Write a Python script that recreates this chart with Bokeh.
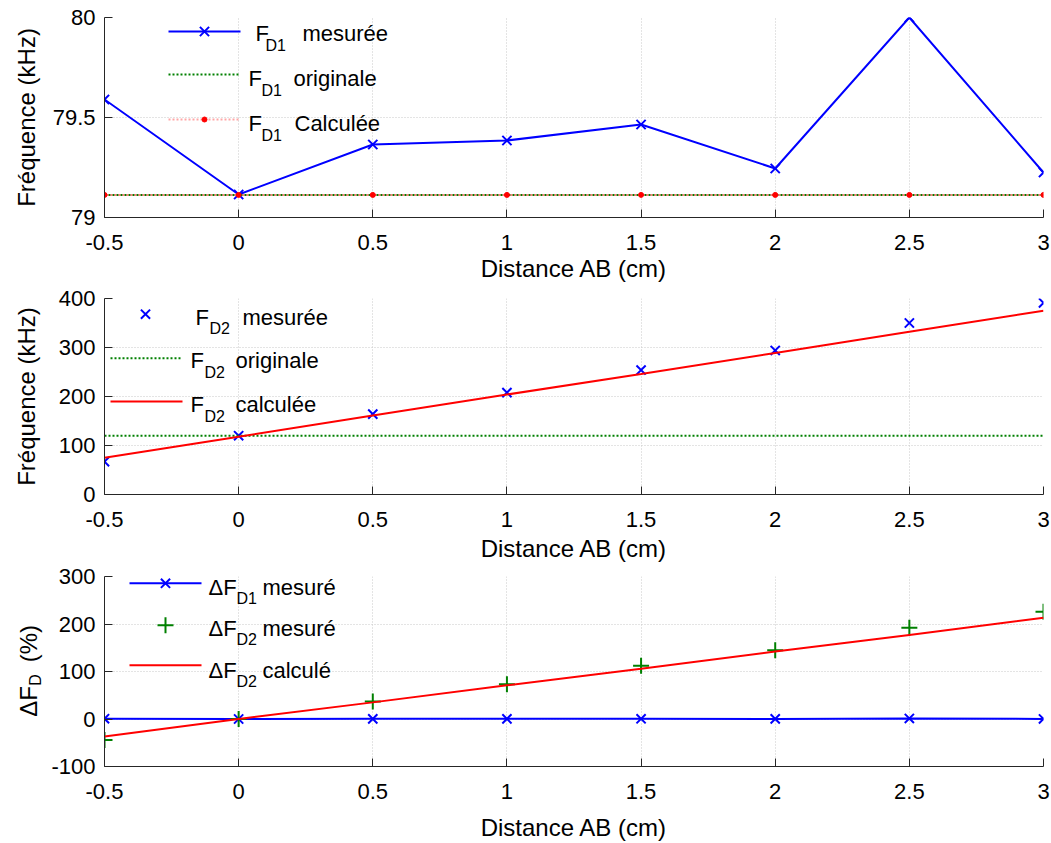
import math
from bokeh.plotting import figure
from bokeh.models import Range1d, FixedTicker, Label
from bokeh.layouts import column, row
from bokeh.embed import file_html
from bokeh.resources import INLINE

# ---------------- data ----------------
distance = [-0.5, 0, 0.5, 1, 1.5, 2, 2.5, 3]
x_tick_labels = ["-0.5", "0", "0.5", "1", "1.5", "2", "2.5", "3"]

fd1_mesuree = [79.59, 79.115, 79.365, 79.385, 79.465, 79.245, 80.0, 79.225]
fd1_originale = [79.113, 79.113, 79.113, 79.113, 79.113, 79.113, 79.113, 79.113]
fd1_calculee = [79.113, 79.113, 79.113, 79.113, 79.113, 79.113, 79.113, 79.113]

fd2_mesuree = [67, 120, 164, 208, 254, 294, 350, 391]
fd2_originale = [120, 120, 120, 120, 120, 120, 120, 120]
fd2_calculee = [75, 118, 161, 204, 246, 289, 332, 375]

dfd1_mesure = [0.6, 0.0, 0.3, 0.3, 0.4, 0.2, 1.1, 0.1]
dfd2_mesure = [-44, 0, 37, 73, 112, 145, 192, 226]
dfd2_calcule = [-37, 0, 35, 71, 106, 142, 177, 213]

p1_yticks = [79, 79.5, 80]
p1_ylabels = ["79", "79.5", "80"]
p2_yticks = [0, 100, 200, 300, 400]
p2_ylabels = ["0", "100", "200", "300", "400"]
p3_yticks = [-100, 0, 100, 200, 300]
p3_ylabels = ["-100", "0", "100", "200", "300"]

BLUE = "#0000ff"
GREEN = "#008000"
RED = "#ff0000"
FONT = "Liberation Sans"

# ---------------- layout (page pixels, no body margin) ----------------
W = 1051
LEFT = 104
RIGHT = 8
FRAME_L_PAGE = LEFT
FRAME_W = W - LEFT - RIGHT

P1 = dict(top=0, bt=17, fh=200, bb=68, y0=79, y1=80)
P2 = dict(top=285, bt=13, fh=200, bb=66, y0=0, y1=400)
P3 = dict(top=564, bt=12, fh=195, bb=72, y0=-100, y1=300)
YTITLE_W = 48  # width of the strip holding the rotated title of panel 3


def dx(px):
    return -0.5 + (px - FRAME_L_PAGE) / FRAME_W * 3.5


def dy(spec, py):
    ftop = spec["top"] + spec["bt"]
    return spec["y1"] - (py - ftop) / spec["fh"] * (spec["y1"] - spec["y0"])


def make_fig(spec, yticks, ylabels, ylabel=None, ylabel_standoff=10,
             xlabel_standoff=2, width=W, left=LEFT):
    h = spec["bt"] + spec["fh"] + spec["bb"]
    p = figure(width=width, height=h, x_range=Range1d(-0.5, 3),
               y_range=Range1d(spec["y0"], spec["y1"]),
               output_backend="svg", toolbar_location=None,
               min_border_left=left, min_border_right=RIGHT,
               min_border_top=spec["bt"], min_border_bottom=spec["bb"])
    p.outline_line_color = None
    p.background_fill_color = "white"
    p.border_fill_color = "white"
    p.xaxis.ticker = FixedTicker(ticks=distance)
    p.xaxis.major_label_overrides = {float(v): s for v, s in zip(distance, x_tick_labels)}
    p.yaxis.ticker = FixedTicker(ticks=yticks)
    p.yaxis.major_label_overrides = {float(v): s for v, s in zip(yticks, ylabels)}
    for ax in (p.xaxis, p.yaxis):
        ax.axis_line_color = "#262626"
        ax.axis_line_width = 1
        ax.major_tick_line_color = "#262626"
        ax.major_tick_in = 8
        ax.major_tick_out = 0
        ax.minor_tick_line_color = None
        ax.major_label_text_font = FONT
        ax.major_label_text_font_size = "22px"
        ax.major_label_text_color = "black"
    p.xaxis.major_label_standoff = 17
    p.yaxis.major_label_standoff = 9
    p.xaxis.axis_label = "Distance AB (cm)"
    p.xaxis.axis_label_text_font = FONT
    p.xaxis.axis_label_text_font_size = "24px"
    p.xaxis.axis_label_text_font_style = "normal"
    p.xaxis.axis_label_text_color = "black"
    p.xaxis.axis_label_standoff = xlabel_standoff
    if ylabel:
        p.yaxis.axis_label = ylabel
        p.yaxis.axis_label_text_font = FONT
        p.yaxis.axis_label_text_font_size = "24px"
        p.yaxis.axis_label_text_font_style = "normal"
        p.yaxis.axis_label_text_color = "black"
        p.yaxis.axis_label_standoff = ylabel_standoff
    for g in (p.xgrid, p.ygrid):
        g.grid_line_color = "#c8c8c8"
        g.grid_line_dash = "1 2"
        g.grid_line_width = 1
    return p


def txt(p, spec, px, py, s, size):
    p.add_layout(Label(x=dx(px), y=dy(spec, py), text=s, text_font=FONT,
                       text_font_size=f"{size}px", text_color="black",
                       text_baseline="alphabetic", text_align="left"))


def legend_entry(p, spec, px_f, py, main, sub, rest, px_sub, px_rest):
    txt(p, spec, px_f, py, main, 22)
    txt(p, spec, px_sub, py + 12, sub, 16)
    txt(p, spec, px_rest, py, rest, 22)


# ---------------- panel 1 ----------------
p1 = make_fig(P1, p1_yticks, p1_ylabels, "Fréquence (kHz)", 10, 2)
p1.line(distance, fd1_mesuree, line_color=BLUE, line_width=2)
p1.scatter(distance, fd1_mesuree, marker="x", size=13, line_color=BLUE, line_width=2)
p1.line(distance, fd1_originale, line_color=GREEN, line_width=2, line_dash="2 2")
p1.line(distance, fd1_calculee, line_color=RED, line_alpha=0.5, line_width=2,
        line_dash="2 2", line_dash_offset=2)
p1.scatter(distance, fd1_calculee, marker="circle", size=5, fill_color=RED, line_color=RED)

# legend keys
p1.line([dx(168), dx(240)], [dy(P1, 31)] * 2, line_color=BLUE, line_width=2)
p1.scatter([dx(204)], [dy(P1, 31)], marker="x", size=13, line_color=BLUE, line_width=2)
p1.line([dx(168), dx(240)], [dy(P1, 74)] * 2, line_color=GREEN, line_width=2, line_dash="2 2")
p1.line([dx(168), dx(240)], [dy(P1, 119)] * 2, line_color=RED, line_alpha=0.35,
        line_width=2, line_dash="2 2")
p1.scatter([dx(204)], [dy(P1, 119)], marker="circle", size=5, fill_color=RED, line_color=RED)
legend_entry(p1, P1, 255, 33, "F", "D1", "mesurée", 265, 302)
legend_entry(p1, P1, 248, 78, "F", "D1", "originale", 261, 293)
legend_entry(p1, P1, 248, 123, "F", "D1", "Calculée", 261, 294)

# ---------------- panel 2 ----------------
p2 = make_fig(P2, p2_yticks, p2_ylabels, "Fréquence (kHz)", 16, 5)
p2.scatter(distance, fd2_mesuree, marker="x", size=13, line_color=BLUE, line_width=2)
p2.line(distance, fd2_originale, line_color=GREEN, line_width=2, line_dash="2 2")
p2.line(distance, fd2_calculee, line_color=RED, line_width=2)

p2.scatter([dx(145)], [dy(P2, 314)], marker="x", size=13, line_color=BLUE, line_width=2)
p2.line([dx(110), dx(182)], [dy(P2, 359)] * 2, line_color=GREEN, line_width=2, line_dash="2 2")
p2.line([dx(110), dx(182)], [dy(P2, 403)] * 2, line_color=RED, line_width=2)
legend_entry(p2, P2, 195, 317, "F", "D2", "mesurée", 209, 242)
legend_entry(p2, P2, 190, 361, "F", "D2", "originale", 204, 235)
legend_entry(p2, P2, 190, 406, "F", "D2", "calculée", 204, 235)

# ---------------- panel 3 ----------------
p3 = make_fig(P3, p3_yticks, p3_ylabels, None, 0, 12,
              width=W - YTITLE_W, left=LEFT - YTITLE_W)
p3.line(distance, dfd1_mesure, line_color=BLUE, line_width=2)
p3.scatter(distance, dfd1_mesure, marker="x", size=13, line_color=BLUE, line_width=2)
p3.scatter(distance, dfd2_mesure, marker="cross", size=16, line_color=GREEN, line_width=2)
p3.line(distance, dfd2_calcule, line_color=RED, line_width=2)

p3.line([dx(129), dx(201)], [dy(P3, 583)] * 2, line_color=BLUE, line_width=2)
p3.scatter([dx(165)], [dy(P3, 583)], marker="x", size=13, line_color=BLUE, line_width=2)
p3.scatter([dx(165)], [dy(P3, 626)], marker="cross", size=16, line_color=GREEN, line_width=2)
p3.line([dx(129), dx(201)], [dy(P3, 667)] * 2, line_color=RED, line_width=2)
legend_entry(p3, P3, 208, 587, "ΔF", "D1", "mesuré", 236, 262)
legend_entry(p3, P3, 208, 629, "ΔF", "D2", "mesuré", 236, 262)
legend_entry(p3, P3, 208, 672, "ΔF", "D2", "calculé", 236, 262)

# strip at the left of panel 3 holding the rotated title  ΔF_D (%)
ftop3 = P3["top"] + P3["bt"]
t3 = figure(width=YTITLE_W, height=P3["bt"] + P3["fh"] + P3["bb"],
            x_range=Range1d(0, YTITLE_W),
            y_range=Range1d(ftop3 + P3["fh"], ftop3),
            x_axis_type=None, y_axis_type=None,
            output_backend="svg", toolbar_location=None,
            min_border_left=0, min_border_right=0,
            min_border_top=P3["bt"], min_border_bottom=P3["bb"])
t3.outline_line_color = None
t3.background_fill_color = "white"
t3.border_fill_color = "white"
for s, px, py, size in (("ΔF", 28, 720, 24), ("D", 35, 688, 16), ("(%)", 28, 664, 24)):
    t3.add_layout(Label(x=px, y=py, text=s, text_font=FONT, text_font_size=f"{size}px",
                        text_color="black", text_baseline="middle",
                        text_align="left", angle=math.pi / 2))

layout = column(p1, p2, row(t3, p3, spacing=0), spacing=0)
open("out.html", "w").write(file_html(layout, INLINE))
